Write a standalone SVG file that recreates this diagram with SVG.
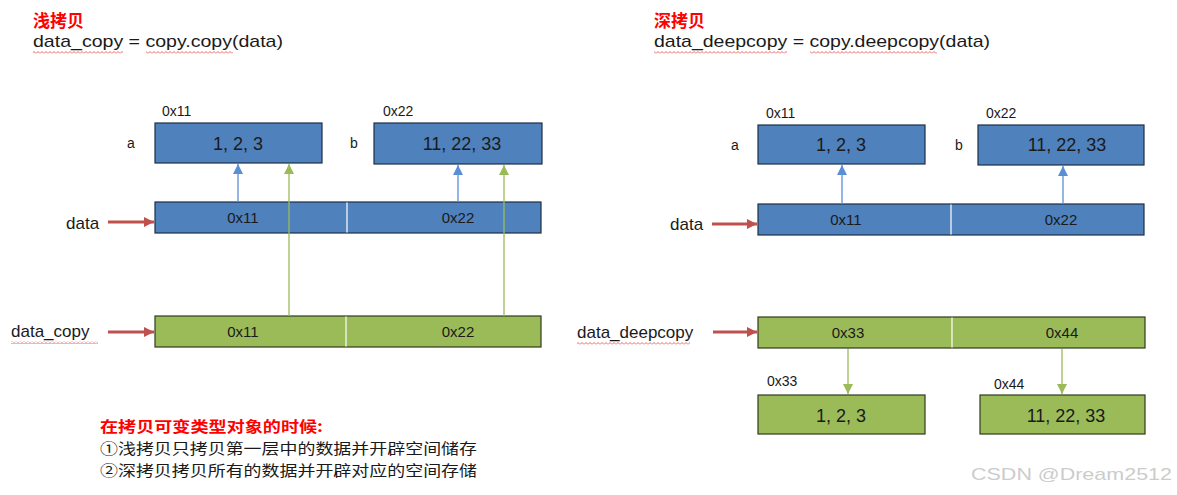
<svg xmlns="http://www.w3.org/2000/svg" width="1177" height="495" viewBox="0 0 1177 495">
<style>
text{font-family:"Liberation Sans","Noto Sans CJK SC",sans-serif;fill:#1a1a1a}
.cjk{font-family:"Noto Sans CJK SC","Liberation Sans",sans-serif}
.title{font-size:17px;font-weight:bold;fill:#ff0000}
.code{font-size:17px}
.lbl{font-size:17px}
.addr{font-size:14px}
.nm{font-size:14px}
.val{font-size:18px;text-anchor:middle}
.bar{font-size:15px;text-anchor:middle}
.note{font-size:15px}
.blue{fill:#4f81bd;stroke:#1f2f45;stroke-width:1.2}
.green{fill:#9bbb59;stroke:#2f3a1f;stroke-width:1.2}
.div{stroke:#ffffff;stroke-width:1.2}
.ab{stroke:#5b8fd3;stroke-width:1.3;fill:none}
.ag{stroke:#9bbb59;stroke-width:1.3;fill:none}
.ar{stroke:#c0504d;stroke-width:3;fill:none}
</style>
<defs>
<marker id="mb" viewBox="0 0 10 10" refX="10" refY="5" markerWidth="10" markerHeight="10" markerUnits="userSpaceOnUse" orient="auto"><path d="M0,0 L10,5 L0,10 z" fill="#5b8fd3"/></marker>
<marker id="mg" viewBox="0 0 10 10" refX="10" refY="5" markerWidth="10" markerHeight="10" markerUnits="userSpaceOnUse" orient="auto"><path d="M0,0 L10,5 L0,10 z" fill="#9bbb59"/></marker>
<marker id="mr" viewBox="0 0 10 10" refX="10" refY="5" markerWidth="11" markerHeight="10" markerUnits="userSpaceOnUse" orient="auto"><path d="M0,0 L10,5 L0,10 z" fill="#c0504d"/></marker>
<pattern id="sq" width="4" height="3" patternUnits="userSpaceOnUse"><polyline points="0,2.5 2,0.5 4,2.5" fill="none" stroke="#e04040" stroke-width="0.8"/></pattern>
</defs>
<rect width="1177" height="495" fill="#ffffff"/>

<g id="header-left">
<text class="title cjk" x="33" y="27">浅拷贝</text>
<text class="code" x="33" y="47" textLength="250" lengthAdjust="spacingAndGlyphs">data_copy = copy.copy(data)</text>
<rect x="33" y="51" width="90" height="3" fill="url(#sq)"/>
<rect x="146" y="51" width="87" height="3" fill="url(#sq)"/>
</g>
<g id="header-right">
<text class="title cjk" x="654" y="27">深拷贝</text>
<text class="code" x="654" y="47" textLength="336" lengthAdjust="spacingAndGlyphs">data_deepcopy = copy.deepcopy(data)</text>
<rect x="654" y="51" width="133" height="3" fill="url(#sq)"/>
<rect x="810" y="51" width="127" height="3" fill="url(#sq)"/>
</g>

<!-- Left: shallow copy -->
<g id="L-a">
<text class="addr" x="162" y="116">0x11</text>
<text class="nm" x="127" y="148">a</text>
<rect class="blue" x="155" y="123" width="167" height="40"/>
<text class="val" x="238" y="150">1, 2, 3</text>
</g>
<g id="L-b">
<text class="addr" x="383" y="116">0x22</text>
<text class="nm" x="350" y="148">b</text>
<rect class="blue" x="374" y="123" width="168" height="41"/>
<text class="val" x="462" y="150">11, 22, 33</text>
</g>
<g id="L-data">
<text class="lbl" x="66" y="229">data</text>
<rect class="blue" x="155" y="202" width="386" height="31"/>
<line class="div" x1="347" y1="202.6" x2="347" y2="232.4"/>
<text class="bar" x="243" y="223">0x11</text>
<text class="bar" x="458" y="223">0x22</text>
</g>
<g id="L-data_copy">
<text class="lbl" x="11" y="337">data_copy</text>
<rect x="11" y="341" width="87" height="3" fill="url(#sq)"/>
<rect class="green" x="155" y="316" width="386" height="31"/>
<line class="div" x1="346" y1="316.6" x2="346" y2="346.4"/>
<text class="bar" x="243" y="337">0x11</text>
<text class="bar" x="458" y="337">0x22</text>
</g>

<!-- Right: deep copy -->
<g id="R-a">
<text class="addr" x="766" y="118">0x11</text>
<text class="nm" x="731" y="150">a</text>
<rect class="blue" x="758" y="125" width="167" height="39"/>
<text class="val" x="841" y="151">1, 2, 3</text>
</g>
<g id="R-b">
<text class="addr" x="986" y="118">0x22</text>
<text class="nm" x="955" y="150">b</text>
<rect class="blue" x="978" y="125" width="166" height="40"/>
<text class="val" x="1067" y="151">11, 22, 33</text>
</g>
<g id="R-data">
<text class="lbl" x="670" y="230">data</text>
<rect class="blue" x="758" y="204" width="386" height="31"/>
<line class="div" x1="951" y1="204.6" x2="951" y2="234.4"/>
<text class="bar" x="846" y="225">0x11</text>
<text class="bar" x="1061" y="225">0x22</text>
</g>
<g id="R-data_deepcopy">
<text class="lbl" x="577" y="338">data_deepcopy</text>
<rect x="577" y="342" width="113" height="3" fill="url(#sq)"/>
<rect class="green" x="758" y="317" width="387" height="31"/>
<line class="div" x1="952" y1="317.6" x2="952" y2="347.4"/>
<text class="bar" x="848" y="338">0x33</text>
<text class="bar" x="1062" y="338">0x44</text>
</g>
<g id="R-c">
<text class="addr" x="767" y="386">0x33</text>
<rect class="green" x="758" y="395" width="167" height="39"/>
<text class="val" x="841" y="422">1, 2, 3</text>
</g>
<g id="R-d">
<text class="addr" x="994" y="389">0x44</text>
<rect class="green" x="980" y="395" width="165" height="39"/>
<text class="val" x="1066" y="422">11, 22, 33</text>
</g>

<g id="connectors">
<line class="ab" x1="238" y1="202" x2="238" y2="164" marker-end="url(#mb)"/>
<line class="ab" x1="458" y1="202" x2="458" y2="165" marker-end="url(#mb)"/>
<line class="ag" x1="289" y1="316" x2="289" y2="164" marker-end="url(#mg)"/>
<line class="ag" x1="504" y1="316" x2="504" y2="165" marker-end="url(#mg)"/>
<line class="ar" x1="108" y1="222" x2="154" y2="222" marker-end="url(#mr)"/>
<line class="ar" x1="108" y1="332" x2="154" y2="332" marker-end="url(#mr)"/>

<line class="ab" x1="842" y1="204" x2="842" y2="165" marker-end="url(#mb)"/>
<line class="ab" x1="1063" y1="204" x2="1063" y2="166" marker-end="url(#mb)"/>
<line class="ar" x1="712" y1="224" x2="757" y2="224" marker-end="url(#mr)"/>
<line class="ar" x1="713" y1="332" x2="757" y2="332" marker-end="url(#mr)"/>
<line class="ag" x1="848" y1="349" x2="848" y2="394" marker-end="url(#mg)"/>
<line class="ag" x1="1062" y1="349" x2="1062" y2="394" marker-end="url(#mg)"/>
</g>

<g id="notes">
<text class="cjk note" x="100" y="432" style="font-weight:bold;fill:#ff0000" textLength="223" lengthAdjust="spacingAndGlyphs">在拷贝可变类型对象的时候:</text>
<text class="cjk note" x="100" y="454" textLength="377" lengthAdjust="spacingAndGlyphs">①浅拷贝只拷贝第一层中的数据并开辟空间储存</text>
<text class="cjk note" x="100" y="476" textLength="377" lengthAdjust="spacingAndGlyphs">②深拷贝拷贝所有的数据并开辟对应的空间存储</text>
</g>

<text x="971" y="480" style="font-size:17px;fill:#cccccc" textLength="201" lengthAdjust="spacingAndGlyphs">CSDN @Dream2512</text>
</svg>
